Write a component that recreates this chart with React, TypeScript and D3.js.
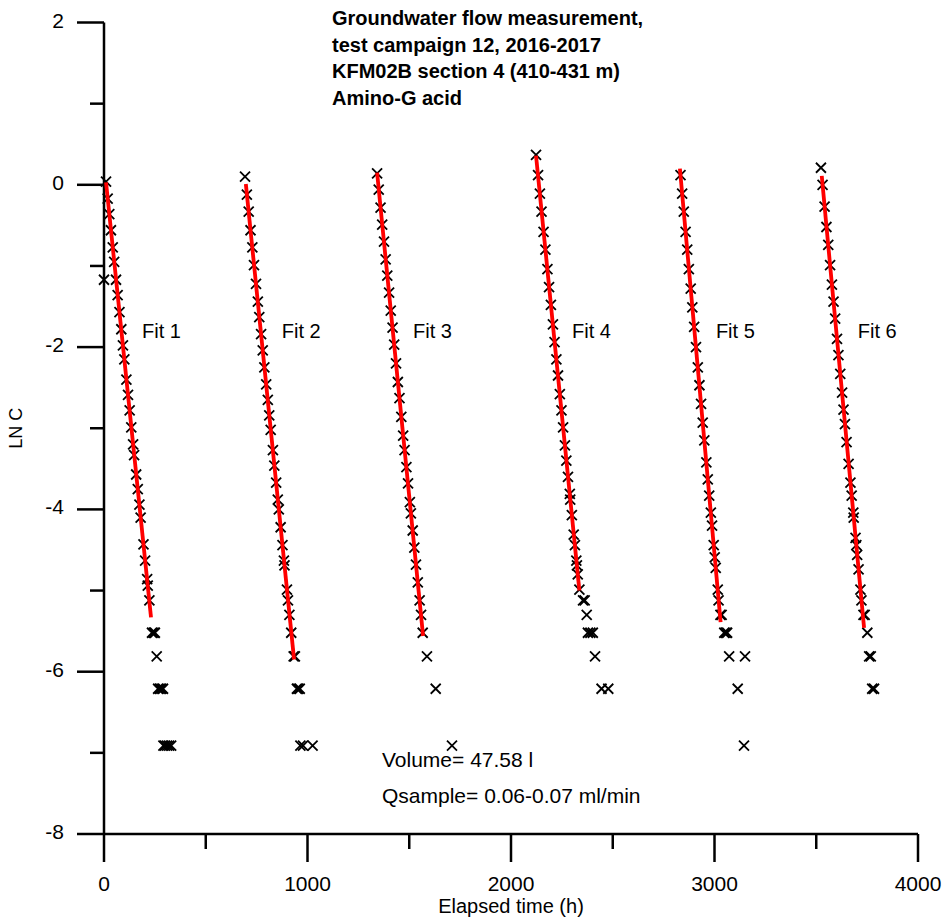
import React from 'react';
import * as d3 from 'd3';

// measured LN C against elapsed time, one list per injection
const series1: [number, number][] = [
  [0, -1.17], [10, 0.04], [18, -0.17], [26, -0.36], [34, -0.56], [43, -0.77], [50, -0.95], [59, -1.17],
  [67, -1.36], [76, -1.57], [85, -1.78], [93, -1.98], [100, -2.15], [110, -2.4], [118, -2.59],
  [126, -2.78], [134, -2.99], [143, -3.2], [148, -3.33], [158, -3.57], [166, -3.75], [174, -3.94],
  [180, -4.1], [194, -4.43], [202, -4.63], [212, -4.86], [215, -4.94], [223, -5.12],
  [236, -5.52], [244, -5.52], [250, -5.52], [259, -5.81], [266, -6.21], [274, -6.21], [282, -6.21],
  [290, -6.21], [292, -6.91], [300, -6.91], [310, -6.91], [320, -6.91], [330, -6.91],
];
const series2: [number, number][] = [
  [693, 0.1], [702, -0.12], [711, -0.33], [720, -0.56], [729, -0.77], [737, -0.99], [747, -1.22],
  [756, -1.44], [763, -1.63], [772, -1.84], [780, -2.04], [788, -2.25], [797, -2.46], [805, -2.65],
  [812, -2.84], [819, -3.02], [830, -3.27], [837, -3.46], [846, -3.67], [854, -3.88], [859, -4.0],
  [868, -4.22], [877, -4.44], [884, -4.63], [887, -4.69], [899, -4.99], [904, -5.12], [911, -5.3],
  [920, -5.52], [932, -5.81], [938, -5.81], [948, -6.21], [955, -6.21], [962, -6.21],
  [965, -6.91], [978, -6.91], [1025, -6.91],
];
const series3: [number, number][] = [
  [1342, 0.14], [1350, -0.06], [1359, -0.28], [1367, -0.49], [1376, -0.7], [1384, -0.92], [1392, -1.12],
  [1401, -1.33], [1409, -1.55], [1418, -1.76], [1426, -1.97], [1435, -2.2], [1444, -2.43], [1452, -2.63],
  [1461, -2.86], [1470, -3.09], [1477, -3.27], [1486, -3.48], [1494, -3.68], [1503, -3.91], [1508, -4.05],
  [1517, -4.26], [1525, -4.47], [1533, -4.68], [1542, -4.9], [1551, -5.12], [1558, -5.3], [1566, -5.52],
  [1587, -5.81], [1630, -6.21], [1710, -6.91],
];
const series4: [number, number][] = [
  [2123, 0.37], [2133, 0.12], [2142, -0.11], [2150, -0.33], [2160, -0.58], [2169, -0.8], [2179, -1.04],
  [2187, -1.26], [2196, -1.48], [2206, -1.72], [2214, -1.94], [2223, -2.15], [2231, -2.35], [2240, -2.58],
  [2248, -2.78], [2256, -2.99], [2265, -3.21], [2272, -3.4], [2280, -3.6], [2289, -3.81], [2291, -3.88],
  [2299, -4.07], [2308, -4.31], [2314, -4.44], [2321, -4.63], [2324, -4.69], [2328, -4.8], [2336, -4.99],
  [2354, -5.12], [2362, -5.12], [2372, -5.3], [2378, -5.52], [2390, -5.52], [2402, -5.52],
  [2413, -5.81], [2445, -6.21], [2478, -6.21],
];
const series5: [number, number][] = [
  [2833, 0.12], [2841, -0.11], [2849, -0.33], [2858, -0.58], [2866, -0.8], [2874, -1.04], [2883, -1.28],
  [2891, -1.51], [2900, -1.75], [2909, -2.0], [2918, -2.25], [2926, -2.47], [2934, -2.7], [2942, -2.93],
  [2950, -3.15], [2960, -3.42], [2967, -3.63], [2974, -3.83], [2982, -4.04], [2988, -4.2], [2996, -4.44],
  [3001, -4.59], [3006, -4.72], [3016, -4.99], [3020, -5.12], [3029, -5.3], [3035, -5.3],
  [3048, -5.52], [3055, -5.52], [3062, -5.52], [3072, -5.81], [3150, -5.81], [3114, -6.21], [3145, -6.91],
];
const series6: [number, number][] = [
  [3523, 0.21], [3531, 0.0], [3541, -0.27], [3550, -0.52], [3559, -0.74], [3568, -0.99], [3577, -1.23],
  [3585, -1.44], [3593, -1.65], [3602, -1.9], [3609, -2.1], [3618, -2.33], [3627, -2.56], [3634, -2.77],
  [3641, -2.95], [3649, -3.17], [3659, -3.44], [3668, -3.67], [3674, -3.83], [3682, -4.04], [3684, -4.1],
  [3693, -4.35], [3697, -4.44], [3701, -4.56], [3708, -4.74], [3717, -4.99], [3722, -5.12], [3732, -5.3],
  [3738, -5.3], [3751, -5.52], [3760, -5.81], [3768, -5.81], [3775, -6.21], [3784, -6.21],
];
const allSeries = [series1, series2, series3, series4, series5, series6];

// fitted straight lines (start/end time and LN C)
const fitTimes: [number, number][] = [[10, 231], [697, 934], [1342, 1568], [2123, 2336], [2830, 3030], [3527, 3735]];
const fitLn: [number, number][] = [[0.03, -5.33], [0.01, -5.85], [0.15, -5.56], [0.36, -5.0], [0.2, -5.39], [0.11, -5.46]];
const fitLabels = ['Fit 1', 'Fit 2', 'Fit 3', 'Fit 4', 'Fit 5', 'Fit 6'];

const xMajor = [0, 1000, 2000, 3000, 4000];
const xMinor = [500, 1500, 2500, 3500];
const yMajor = [2, 0, -2, -4, -6, -8];
const yMinor = [1, -1, -3, -5, -7];

const titleLines = [
  'Groundwater flow measurement,',
  'test campaign 12, 2016-2017',
  'KFM02B section 4 (410-431 m)',
  'Amino-G acid',
];
const notes = ['Volume= 47.58 l', 'Qsample= 0.06-0.07 ml/min'];

const FONT = "Arial, 'Liberation Sans', sans-serif";

export default function App() {
  const width = 944;
  const height = 924;
  const x = d3.scaleLinear().domain([0, 4000]).range([104, 918]);
  const y = d3.scaleLinear().domain([-8, 2]).range([834, 22.5]);
  const cross = 'M-5,-5L5,5M-5,5L5,-5';
  const line = d3.line<[number, number]>().x(d => x(d[0])).y(d => y(d[1]));

  return (
    <svg width={width} height={height} style={{ position: 'absolute', left: 0, top: 0, background: '#fff' }}>
      {/* y axis */}
      <line x1={x(0)} x2={x(0)} y1={y(2)} y2={y(-8)} stroke="#000" strokeWidth={2.5} />
      {yMajor.map(v => (
        <g key={'ym' + v}>
          <line x1={x(0) - 27} x2={x(0)} y1={y(v)} y2={y(v)} stroke="#000" strokeWidth={2.5} />
          <text x={64} y={y(v) + 5} textAnchor="end" fontFamily={FONT} fontSize={21}>{v}</text>
        </g>
      ))}
      {yMinor.map(v => (
        <line key={'yn' + v} x1={x(0) - 14} x2={x(0)} y1={y(v)} y2={y(v)} stroke="#000" strokeWidth={2.5} />
      ))}
      <text transform={`translate(22,${(y(2) + y(-8)) / 2}) rotate(-90)`} textAnchor="middle"
        fontFamily={FONT} fontSize={18}>LN C</text>

      {/* x axis */}
      <line x1={x(0)} x2={x(4000)} y1={y(-8)} y2={y(-8)} stroke="#000" strokeWidth={2.5} />
      {xMajor.map(v => (
        <g key={'xm' + v}>
          <line x1={x(v)} x2={x(v)} y1={y(-8)} y2={y(-8) + 28} stroke="#000" strokeWidth={2.5} />
          <text x={x(v)} y={y(-8) + 57} textAnchor="middle" fontFamily={FONT} fontSize={21}>{v}</text>
        </g>
      ))}
      {xMinor.map(v => (
        <line key={'xn' + v} x1={x(v)} x2={x(v)} y1={y(-8)} y2={y(-8) + 15} stroke="#000" strokeWidth={2.5} />
      ))}
      <text x={(x(0) + x(4000)) / 2} y={913} textAnchor="middle" fontFamily={FONT} fontSize={20}>Elapsed time (h)</text>

      {/* measured points */}
      {allSeries.map((s, i) => (
        <g key={'s' + i}>
          {s.map((d, j) => (
            <path key={j} d={cross} transform={`translate(${x(d[0])},${y(d[1])})`} stroke="#000" strokeWidth={1.8} fill="none" />
          ))}
        </g>
      ))}

      {/* fits */}
      {fitTimes.map((t, i) => (
        <path key={'f' + i} d={line([[t[0], fitLn[i][0]], [t[1], fitLn[i][1]]]) || ''} stroke="#ff0000" strokeWidth={3.8} fill="none" />
      ))}
      {fitLabels.map((lab, i) => (
        <text key={'fl' + i} x={x(fitTimes[i][0]) + 36} y={338} fontFamily={FONT} fontSize={20}>{lab}</text>
      ))}

      {/* title */}
      {titleLines.map((t, i) => (
        <text key={'t' + i} x={332} y={25 + i * 26.7} fontFamily={FONT} fontSize={20} fontWeight="bold">{t}</text>
      ))}

      {notes.map((t, i) => (
        <text key={'n' + i} x={382} y={767 + i * 36} fontFamily={FONT} fontSize={21}>{t}</text>
      ))}
    </svg>
  );
}
